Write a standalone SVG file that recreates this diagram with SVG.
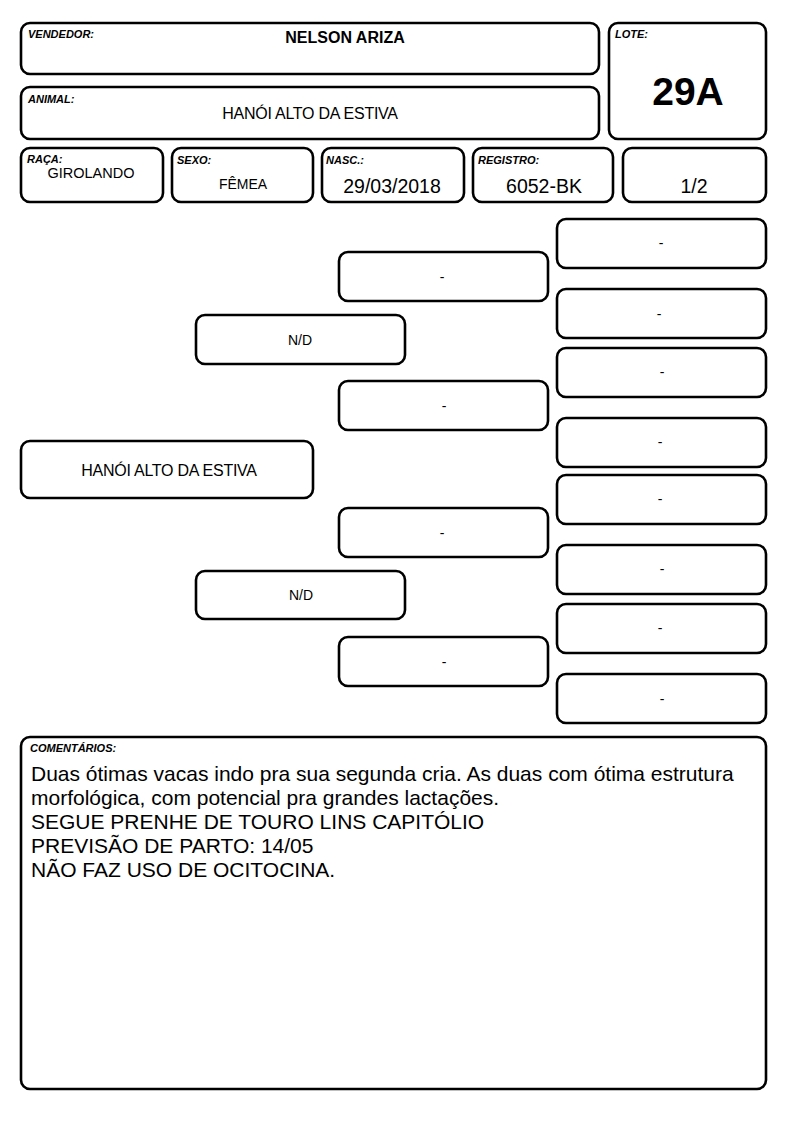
<svg xmlns="http://www.w3.org/2000/svg" width="794" height="1123" viewBox="0 0 794 1123">
<style>
.b{fill:#fff;stroke:#000;stroke-width:2.6}
.lbl{font-family:"Liberation Sans",Arial,sans-serif;font-size:11px;font-weight:bold;font-style:italic;fill:#000}
.t{font-family:"Liberation Sans",Arial,sans-serif;font-size:14px;fill:#000;text-anchor:middle}
.n{font-family:"Liberation Sans",Arial,sans-serif;font-size:16px;letter-spacing:-0.25px;fill:#000;text-anchor:middle}
.v{font-family:"Liberation Sans",Arial,sans-serif;font-size:19.5px;fill:#000;text-anchor:middle}
.c{font-family:"Liberation Sans",Arial,sans-serif;font-size:21px;fill:#000}
</style>
<rect width="794" height="1123" fill="#fff"/>
<g id="vendedor"><rect class="b" x="21" y="23" width="578" height="51" rx="9"/><text class="lbl" x="28" y="38">VENDEDOR:</text><text x="345" y="43" style="font-family:'Liberation Sans',Arial,sans-serif;font-size:16px;font-weight:bold;text-anchor:middle">NELSON ARIZA</text></g>
<g id="animal"><rect class="b" x="21" y="87" width="578" height="52" rx="9"/><text class="lbl" x="28" y="103">ANIMAL:</text><text class="n" x="310" y="119">HANÓI ALTO DA ESTIVA</text></g>
<g id="lote"><rect class="b" x="609" y="23" width="157" height="116" rx="9"/><text class="lbl" x="615" y="38">LOTE:</text><text x="688" y="105" style="font-family:'Liberation Sans',Arial,sans-serif;font-size:39px;font-weight:bold;text-anchor:middle">29A</text></g>
<g id="raca"><rect class="b" x="21" y="148" width="142" height="54" rx="9"/><text class="lbl" x="27" y="163">RAÇA:</text><text class="t" x="91" y="178" style="font-size:14.5px">GIROLANDO</text></g>
<g id="sexo"><rect class="b" x="172" y="148" width="141" height="54" rx="9"/><text class="lbl" x="177" y="164">SEXO:</text><text class="t" x="243" y="189">FÊMEA</text></g>
<g id="nasc"><rect class="b" x="322" y="148" width="142" height="54" rx="9"/><text class="lbl" x="326" y="164">NASC.:</text><text class="v" x="392" y="193">29/03/2018</text></g>
<g id="registro"><rect class="b" x="473" y="148" width="140" height="54" rx="9"/><text class="lbl" x="478" y="164">REGISTRO:</text><text class="v" x="544" y="193">6052-BK</text></g>
<g id="fracao"><rect class="b" x="623" y="148" width="143" height="54" rx="9"/><text class="v" x="694" y="193">1/2</text></g>

<g id="animal-node"><rect class="b" x="21" y="441" width="292" height="57" rx="9"/><text class="n" x="169" y="476">HANÓI ALTO DA ESTIVA</text></g>
<g id="pai"><rect class="b" x="196" y="315" width="209" height="49" rx="9"/><text class="t" x="300" y="345">N/D</text></g>
<g id="mae"><rect class="b" x="196" y="571" width="209" height="48" rx="9"/><text class="t" x="301" y="600">N/D</text></g>
<g id="avo1"><rect class="b" x="339" y="252" width="209" height="49" rx="9"/><text class="t" x="442" y="282">-</text></g>
<g id="avo2"><rect class="b" x="339" y="381" width="209" height="49" rx="9"/><text class="t" x="444" y="411">-</text></g>
<g id="avo3"><rect class="b" x="339" y="508" width="209" height="49" rx="9"/><text class="t" x="442" y="538">-</text></g>
<g id="avo4"><rect class="b" x="339" y="637" width="209" height="49" rx="9"/><text class="t" x="444" y="667">-</text></g>
<g id="bis1"><rect class="b" x="557" y="219" width="209" height="49" rx="9"/><text class="t" x="661" y="248">-</text></g>
<g id="bis2"><rect class="b" x="557" y="289" width="209" height="49" rx="9"/><text class="t" x="659" y="319">-</text></g>
<g id="bis3"><rect class="b" x="557" y="348" width="209" height="49" rx="9"/><text class="t" x="662" y="377">-</text></g>
<g id="bis4"><rect class="b" x="557" y="418" width="209" height="49" rx="9"/><text class="t" x="660" y="447">-</text></g>
<g id="bis5"><rect class="b" x="557" y="475" width="209" height="49" rx="9"/><text class="t" x="660" y="504">-</text></g>
<g id="bis6"><rect class="b" x="557" y="545" width="209" height="49" rx="9"/><text class="t" x="662" y="574">-</text></g>
<g id="bis7"><rect class="b" x="557" y="604" width="209" height="49" rx="9"/><text class="t" x="660" y="633">-</text></g>
<g id="bis8"><rect class="b" x="557" y="674" width="209" height="49" rx="9"/><text class="t" x="662" y="704">-</text></g>
<g id="connectors"></g>

<g id="comentarios"><rect class="b" x="21" y="737" width="745" height="352" rx="9"/><text class="lbl" x="30" y="752">COMENTÁRIOS:</text>
<text class="c" x="31" y="781">Duas ótimas vacas indo pra sua segunda cria. As duas com ótima estrutura</text>
<text class="c" x="31" y="805">morfológica, com potencial pra grandes lactações.</text>
<text class="c" x="31" y="829">SEGUE PRENHE DE TOURO LINS CAPITÓLIO</text>
<text class="c" x="31" y="853">PREVISÃO DE PARTO: 14/05</text>
<text class="c" x="31" y="877">NÃO FAZ USO DE OCITOCINA.</text></g>
</svg>
